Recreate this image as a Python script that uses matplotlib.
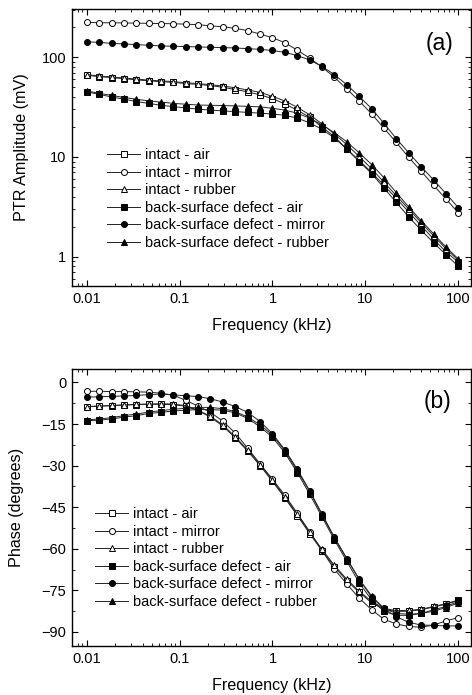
import numpy as np
import matplotlib
matplotlib.use("Agg")
import matplotlib.pyplot as plt
from matplotlib.ticker import LogLocator, FixedLocator, NullFormatter, MultipleLocator

plt.rcParams['font.family'] = ['Liberation Sans', 'DejaVu Sans']

freq = [0.01, 0.0136, 0.0185, 0.0251, 0.0341, 0.0464, 0.0631, 0.0858, 0.117, 0.158,
        0.215, 0.293, 0.398, 0.541, 0.736, 1.0, 1.36, 1.85, 2.51, 3.41,
        4.64, 6.31, 8.58, 11.7, 15.8, 21.5, 29.3, 39.8, 54.1, 73.6, 100.0]

labels = ["intact - air", "intact - mirror", "intact - rubber",
          "back-surface defect - air", "back-surface defect - mirror",
          "back-surface defect - rubber"]

amp_intact_air = [66, 64, 62.5, 61, 59.5, 58, 57, 56, 54.5, 53.5,
                  52, 50, 47.5, 45, 42, 38.5, 34, 29.5, 25, 20,
                  16, 12, 9.2, 7.0, 5.2, 3.85, 2.8, 2.05, 1.5, 1.12, 0.88]
amp_intact_mirror = [224, 222, 222, 221, 220, 219, 218, 217, 215, 212,
                     207, 202, 195, 185, 171, 157, 140, 118, 98, 80,
                     63, 48, 36.5, 27, 19.5, 14, 9.9, 7.2, 5.2, 3.8, 2.75]
amp_intact_rubber = [67, 65, 63.5, 62, 60.5, 59, 58, 57, 55.5, 54.5,
                     53, 51.5, 49.5, 47, 44.5, 40.5, 36.5, 31.5, 26.5, 21.5,
                     17, 13.3, 10.1, 7.6, 5.6, 4.1, 3.0, 2.2, 1.62, 1.2, 0.92]
amp_bsd_air = [45, 42.5, 40, 38, 36, 34.5, 33, 32, 31, 30.2,
               29.5, 29, 28.5, 28, 27.5, 27, 26.2, 24.5, 22, 19,
               15.5, 12, 9, 6.8, 4.9, 3.5, 2.5, 1.85, 1.38, 1.05, 0.8]
amp_bsd_mirror = [143, 141, 138, 136, 134, 132, 130, 129, 128, 127,
                  126, 125, 124, 122, 120, 117, 112, 104, 94, 81,
                  67, 53, 40.5, 30.5, 21.8, 15.3, 11, 8.0, 5.9, 4.3, 3.1]
amp_bsd_rubber = [46, 43.5, 41.5, 39.5, 38, 36.5, 35.5, 34.5, 33.8, 33.2,
                  33, 32.8, 32.5, 32.2, 31.8, 30.8, 29.5, 27.5, 24.5, 21,
                  17.5, 14.2, 11, 8.4, 6.2, 4.4, 3.15, 2.3, 1.7, 1.25, 0.95]

ph_intact_air = [-8.8, -8.6, -8.4, -8.2, -8.0, -7.9, -7.9, -8.0, -8.6, -10.2,
                 -12.5, -15.8, -20.0, -24.8, -30.0, -35.7, -41.7, -48.0, -54.5, -60.7,
                 -66.5, -71.5, -75.7, -79.5, -81.8, -82.6, -82.5, -82.0, -81.0, -80.0, -78.6]
ph_intact_mirror = [-3.2, -3.2, -3.3, -3.3, -3.4, -3.5, -3.9, -4.6, -6.5, -8.5,
                    -10.8, -14.0, -18.3, -23.7, -29.4, -34.9, -40.7, -47.2, -53.8, -60.6,
                    -67.4, -72.7, -77.8, -82.0, -85.4, -87.1, -88.0, -88.3, -87.5, -86.0, -84.8]
ph_intact_rubber = [-8.7, -8.5, -8.3, -8.1, -7.9, -7.8, -7.7, -7.8, -8.4, -10.0,
                    -12.2, -15.4, -19.6, -24.4, -29.6, -35.3, -41.3, -47.6, -54.0, -60.2,
                    -66.0, -71.0, -75.3, -79.0, -81.5, -82.3, -82.2, -81.8, -80.8, -79.8, -78.5]
ph_bsd_air = [-13.8, -13.6, -13.2, -12.5, -12.0, -11.2, -10.8, -10.3, -10.0, -9.8,
              -9.8, -10.0, -11.0, -13.0, -16.0, -19.8, -25.4, -32.5, -40.3, -48.5,
              -56.8, -64.5, -72.3, -78.5, -82.5, -84.0, -84.0, -83.3, -82.0, -80.8, -79.0]
ph_bsd_mirror = [-5.3, -5.2, -5.0, -4.9, -4.7, -4.4, -4.2, -4.5, -4.8, -5.1,
                 -5.9, -7.1, -8.7, -10.8, -14.1, -18.5, -24.3, -31.3, -39.0, -47.4,
                 -55.9, -63.6, -71.0, -77.5, -81.5, -84.5, -86.5, -87.5, -87.6, -87.8, -87.8]
ph_bsd_rubber = [-13.5, -13.2, -12.7, -12.0, -11.4, -10.7, -10.2, -9.7, -9.3, -9.0,
                 -9.0, -9.5, -10.5, -12.5, -15.3, -19.0, -24.7, -31.8, -39.3, -47.7,
                 -56.0, -63.5, -71.0, -77.0, -81.5, -83.3, -83.6, -83.3, -82.5, -81.2, -79.5]

amp_series = [amp_intact_air, amp_intact_mirror, amp_intact_rubber,
              amp_bsd_air, amp_bsd_mirror, amp_bsd_rubber]
ph_series = [ph_intact_air, ph_intact_mirror, ph_intact_rubber,
             ph_bsd_air, ph_bsd_mirror, ph_bsd_rubber]
markers = ['s', 'o', '^', 's', 'o', '^']
faces = ['white', 'white', 'white', 'black', 'black', 'black']

W, H = 472, 695
fig = plt.figure(figsize=(W / 100, H / 100), dpi=100)

def rect(l, t, r, b):
    return [l / W, 1 - b / H, (r - l) / W, (b - t) / H]

ax1 = fig.add_axes(rect(72, 9, 471, 286))
ax2 = fig.add_axes(rect(72, 369, 471, 646))

for ax, series in ((ax1, amp_series), (ax2, ph_series)):
    for vals, m, fc, lab in zip(series, markers, faces, labels):
        ax.plot(freq, vals, marker=m, mfc=fc, mec='black', color='#222222',
                lw=0.7, ms=4.3, mew=0.7, label=lab)
    ax.set_xscale('log')
    ax.set_xlim(0.00695, 137)
    ax.xaxis.set_major_locator(FixedLocator([0.01, 0.1, 1, 10, 100]))
    ax.xaxis.set_minor_locator(LogLocator(base=10, subs=np.arange(2, 10), numticks=20))
    ax.xaxis.set_minor_formatter(NullFormatter())
    ax.set_xticklabels(['0.01', '0.1', '1', '10', '100'])
    ax.tick_params(which='both', direction='in', top=True, right=True, labelsize=10.5,
                   pad=4)
    ax.tick_params(which='major', length=4, width=0.8)
    ax.tick_params(which='minor', length=2, width=0.6)
    for s in ax.spines.values():
        s.set_linewidth(1.0)
    ax.set_xlabel('Frequency (kHz)', fontsize=11.6, labelpad=9)
    ax.legend(loc='center left', frameon=False, fontsize=10.5,
              handlelength=2.3, handletextpad=0.28, labelspacing=0.24,
              borderpad=0, borderaxespad=0,
              bbox_to_anchor=(0.0875 if ax is ax1 else 0.0575,
                              0.314 if ax is ax1 else 0.317))

ax1.set_yscale('log')
ax1.set_ylim(0.508, 305)
ax1.yaxis.set_major_locator(FixedLocator([1, 10, 100]))
ax1.yaxis.set_minor_locator(LogLocator(base=10, subs=np.arange(2, 10), numticks=20))
ax1.yaxis.set_minor_formatter(NullFormatter())
ax1.set_yticklabels(['1', '10', '100'])
ax1.set_ylabel('PTR Amplitude (mV)', fontsize=11.6, labelpad=9.5)
ax1.text(0.922, 0.877, '(a)', transform=ax1.transAxes, fontsize=16.5,
         ha='center', va='center')

ax2.set_ylim(-95.05, 4.84)
ax2.yaxis.set_major_locator(MultipleLocator(15))
ax2.yaxis.set_minor_locator(MultipleLocator(7.5))
ax2.set_ylabel('Phase (degrees)', fontsize=11.6, labelpad=13)
ax2.text(0.915, 0.882, '(b)', transform=ax2.transAxes, fontsize=16.5,
         ha='center', va='center')

fig.savefig('out.png', dpi=100)
